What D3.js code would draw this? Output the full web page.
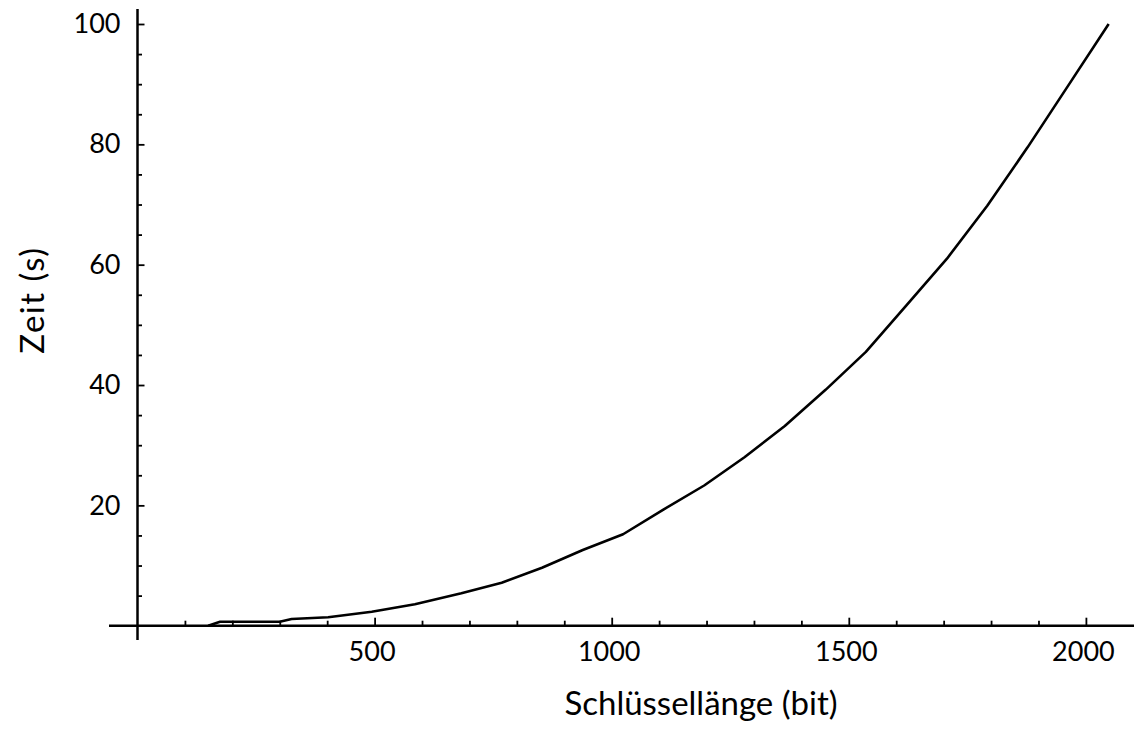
<!DOCTYPE html>
<html>
<head>
<meta charset="utf-8">
<script src="https://cdn.jsdelivr.net/npm/d3@7"></script>
<style>
  html, body { margin: 0; padding: 0; background: #fff; }
  svg { display: block; }
  text { font-family: Lato, "Open Sans", sans-serif; fill: #000; }
</style>
</head>
<body>
<svg id="chart" width="1134" height="730"></svg>
<script>
// Data (key length in bit, time in seconds)
const keyLengths = [149, 174, 300, 325, 402, 494, 585, 683, 768, 853, 939, 1024,
                    1109, 1195, 1280, 1365, 1451, 1536, 1621, 1707, 1792, 1877, 1963, 2048];
const times      = [0, 0.66, 0.66, 1.11, 1.4, 2.33, 3.56, 5.38, 7.15, 9.64, 12.58, 15.2,
                    19.3, 23.3, 28.0, 33.2, 39.2, 45.5, 53.2, 61.0, 69.8, 79.5, 89.8, 100.0];
const xMajorTicks = [500, 1000, 1500, 2000];
const xMinorTicks = [100, 200, 300, 400, 600, 700, 800, 900, 1100, 1200, 1300, 1400, 1600, 1700, 1800, 1900];
const yMajorTicks = [20, 40, 60, 80, 100];
const yMinorTicks = [5, 10, 15, 25, 30, 35, 45, 50, 55, 65, 70, 75, 85, 90, 95];
const xTitle = "Schlüssellänge (bit)";
const yTitle = "Zeit (s)";

const svg = d3.select("#chart");
const x = d3.scaleLinear().domain([0, 2000]).range([137.5, 1085.9]);
const y = d3.scaleLinear().domain([0, 100]).range([625.7, 24]);
const x0 = x(0), y0 = y(0);

// axis lines
svg.append("line").attr("x1", 109).attr("x2", 1134).attr("y1", y0).attr("y2", y0)
  .attr("stroke", "#000").attr("stroke-width", 2.5);
svg.append("line").attr("x1", x0).attr("x2", x0).attr("y1", 9).attr("y2", 640)
  .attr("stroke", "#000").attr("stroke-width", 2.5);

function styleAxis(g) {
  g.select(".domain").remove();
  g.selectAll(".tick line").attr("stroke", "#000").attr("stroke-width", 1.8);
  g.selectAll(".tick text").attr("font-size", 27).attr("font-family", "Lato, 'Open Sans', sans-serif").attr("fill", "#000");
}

// x axis
svg.append("g").attr("transform", `translate(0,${y0})`)
  .call(d3.axisBottom(x).tickValues(xMinorTicks).tickSize(-5).tickFormat(""))
  .call(styleAxis);
svg.append("g").attr("transform", `translate(0,${y0})`)
  .call(d3.axisBottom(x).tickValues(xMajorTicks).tickSize(-8).tickPadding(16).tickFormat(d3.format("d")))
  .call(styleAxis)
  .call(g => g.selectAll(".tick text").attr("dx", -3));

// y axis
svg.append("g").attr("transform", `translate(${x0},0)`)
  .call(d3.axisLeft(y).tickValues(yMinorTicks).tickSize(-4.5).tickFormat(""))
  .call(styleAxis);
svg.append("g").attr("transform", `translate(${x0},0)`)
  .call(d3.axisLeft(y).tickValues(yMajorTicks).tickSize(-7).tickPadding(17).tickFormat(d3.format("d")))
  .call(styleAxis);

// curve
const line = d3.line().x((d, i) => x(keyLengths[i])).y(d => y(d));
svg.append("path").datum(times)
  .attr("d", line)
  .attr("fill", "none").attr("stroke", "#000").attr("stroke-width", 2.6)
  .attr("stroke-linejoin", "round");

// titles
svg.append("text").attr("x", 701).attr("y", 715).attr("text-anchor", "middle")
  .attr("font-size", 33).text(xTitle);
svg.append("text").attr("transform", "translate(44,300) rotate(-90)").attr("text-anchor", "middle")
  .attr("font-size", 33).attr("letter-spacing", 1.5).text(yTitle);
</script>
</body>
</html>
